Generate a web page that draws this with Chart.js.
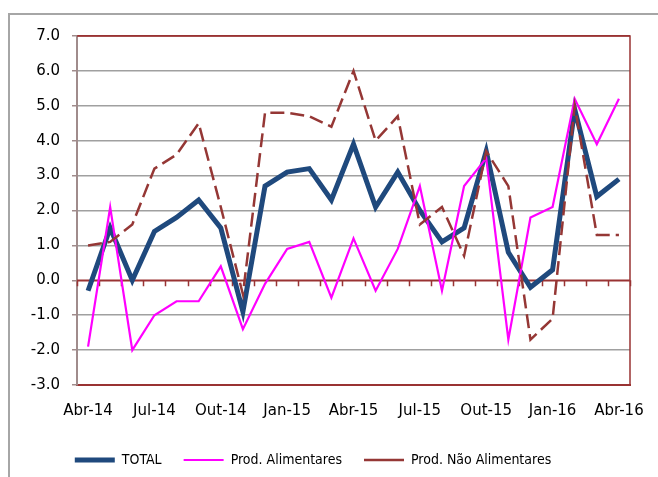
<!DOCTYPE html>
<html>
<head>
<meta charset="utf-8">
<script src="https://cdn.jsdelivr.net/npm/chart.js@4"></script>
<style>
    body { margin: 0; background: #fff; }
    #wrap { position: relative; width: 658px; height: 477px; overflow: hidden; }
    #frame { position: absolute; left: 8px; top: 13px; width: 700px; height: 520px;
             border-left: 2px solid #a6a6a6; border-top: 2px solid #a6a6a6; }
    canvas { position: absolute; left: 0; top: 0; }
</style>
</head>
<body>
<div id="wrap">
    <div id="frame"></div>
    <canvas id="chart" width="658" height="477"></canvas>
</div>
<script>
// Meses (Abr-14 a Abr-16)
const meses = ['Abr-14', 'Mai-14', 'Jun-14', 'Jul-14', 'Ago-14', 'Set-14', 'Out-14', 'Nov-14', 'Dez-14',
    'Jan-15', 'Fev-15', 'Mar-15', 'Abr-15', 'Mai-15', 'Jun-15', 'Jul-15', 'Ago-15', 'Set-15',
    'Out-15', 'Nov-15', 'Dez-15', 'Jan-16', 'Fev-16', 'Mar-16', 'Abr-16'];

// Séries
const total = [-0.3, 1.5, 0.0, 1.4, 1.8, 2.3, 1.5, -0.9, 2.7, 3.1, 3.2, 2.3, 3.9, 2.1, 3.1, 2.0,
    1.1, 1.5, 3.7, 0.8, -0.2, 0.3, 4.9, 2.4, 2.9];
const alimentares = [-1.9, 2.1, -2.0, -1.0, -0.6, -0.6, 0.4, -1.4, -0.1, 0.9, 1.1, -0.5, 1.2, -0.3,
    0.9, 2.7, -0.3, 2.7, 3.5, -1.7, 1.8, 2.1, 5.2, 3.9, 5.2];
const naoAlimentares = [1.0, 1.1, 1.6, 3.2, 3.6, 4.5, 2.1, -0.4, 4.8, 4.8, 4.7, 4.4, 6.0, 4.0, 4.7,
    1.6, 2.1, 0.7, 3.7, 2.7, -1.7, -1.1, 5.0, 1.3, 1.3];

// Eixo Y
const yMin = -3;
const yMax = 7;
const yStep = 1;

const frameColor = '#993333';

// Moldura: linha do topo, lado direito e linha do zero com marcas
const framePlugin = {
    id: 'frame',
    afterLayout(chart) {
        // legenda um pouco à esquerda, como no original
        const lg = chart.legend;
        lg.left -= 7;
        lg.right -= 7;
    },
    beforeDatasetsDraw(chart) {
        const { ctx, chartArea, scales } = chart;
        const x = scales.x;
        const y0 = scales.y.getPixelForValue(0);
        const half = (x.getPixelForValue(1) - x.getPixelForValue(0)) / 2;
        ctx.save();
        ctx.strokeStyle = frameColor;
        ctx.lineWidth = 1.5;
        ctx.beginPath();
        ctx.moveTo(chartArea.left, chartArea.top);
        ctx.lineTo(chartArea.right, chartArea.top);
        ctx.lineTo(chartArea.right, chartArea.bottom);
        ctx.moveTo(chartArea.left, y0);
        ctx.lineTo(chartArea.right, y0);
        for (let i = 0; i <= meses.length; i++) {
            const px = Math.round(x.getPixelForValue(i) - half) + 0.5;
            ctx.moveTo(px, y0);
            ctx.lineTo(px, y0 + 6);
        }
        ctx.stroke();
        ctx.restore();
    }
};

function initChart() {
    const ctx = document.getElementById('chart').getContext('2d');

    new Chart(ctx, {
        type: 'line',
        data: {
            labels: meses,
            datasets: [
                {
                    label: 'TOTAL',
                    data: total,
                    borderColor: '#1f497d',
                    backgroundColor: '#1f497d',
                    borderWidth: 5,
                    pointRadius: 0,
                    order: 3
                },
                {
                    label: 'Prod. Alimentares',
                    data: alimentares,
                    borderColor: '#ff00ff',
                    backgroundColor: '#ff00ff',
                    borderWidth: 2.2,
                    pointRadius: 0,
                    order: 2
                },
                {
                    label: 'Prod. Não Alimentares',
                    data: naoAlimentares,
                    borderColor: '#953735',
                    backgroundColor: '#953735',
                    borderWidth: 2.5,
                    borderDash: [14, 6],
                    pointRadius: 0,
                    order: 1
                }
            ]
        },
        options: {
            responsive: false,
            animation: false,
            layout: { padding: { left: 10, right: 28, top: 36, bottom: 0 } },
            plugins: {
                tooltip: { enabled: false },
                legend: {
                    position: 'bottom',
                    labels: {
                        usePointStyle: true,
                        pointStyle: 'line',
                        pointStyleWidth: 40,
                        padding: 22,
                        color: '#000',
                        font: { family: '"DejaVu Sans Condensed", "DejaVu Sans"', size: 14 },
                        sort: (a, b) => a.datasetIndex - b.datasetIndex
                    }
                }
            },
            scales: {
                x: {
                    offset: true,
                    grid: { display: false },
                    border: { color: frameColor, width: 2 },
                    ticks: {
                        autoSkip: false,
                        maxRotation: 0,
                        padding: 9,
                        color: '#000',
                        font: { family: '"DejaVu Sans"', size: 15 },
                        callback: (v, i) => (i % 3 === 0 ? meses[i] : '')
                    },
                    afterFit: (scale) => { scale.height = 46; }
                },
                y: {
                    min: yMin,
                    max: yMax,
                    ticks: {
                        stepSize: yStep,
                        padding: 12,
                        color: '#000',
                        font: { family: '"DejaVu Sans"', size: 15 },
                        callback: (v) => v.toFixed(1)
                    },
                    grid: {
                        color: (c) => (c.tick && (c.tick.value === 0 || c.tick.value === yMax) ? frameColor : '#a0a0a0'),
                        lineWidth: 1.5,
                        tickLength: 5,
                        tickColor: '#a08c8c'
                    },
                    border: { color: '#a08c8c', width: 2 },
                    afterFit: (scale) => { scale.width = 67; }
                }
            }
        },
        plugins: [framePlugin]
    });
}

document.addEventListener('DOMContentLoaded', initChart);
</script>
</body>
</html>
